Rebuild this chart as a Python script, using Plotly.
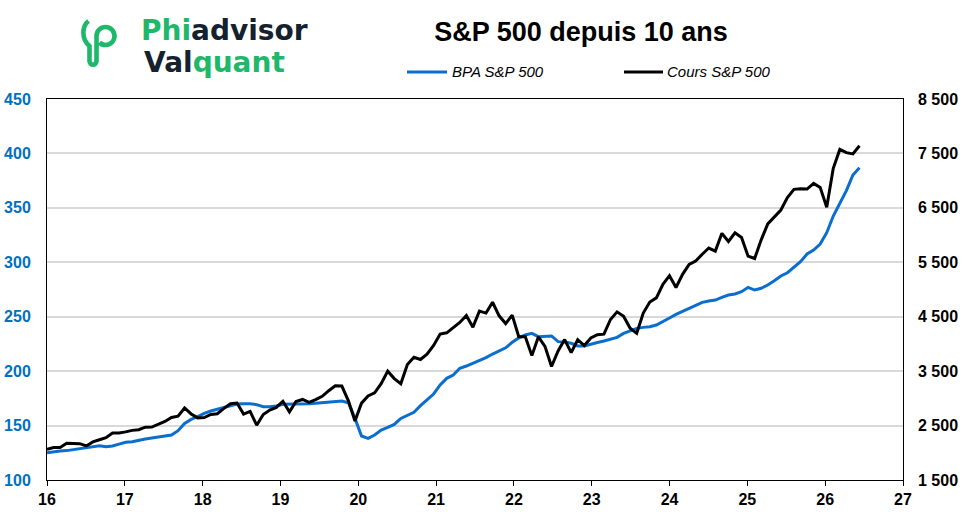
import plotly.graph_objects as go

# x positions: one point per month, first one on the "16" tick
x_start = 16.0
x_step = 0.0842

# BPA S&P 500 (left axis)
bpa = [125.1, 126.0, 126.6, 127.0, 127.9, 128.8, 129.7, 131.0, 131.5, 130.6, 131.2, 133.0,
       134.6, 135.2, 136.7, 137.7, 138.6, 139.8, 140.4, 141.3, 145.3, 152.0, 155.7, 158.2,
       161.2, 163.4, 164.9, 166.7, 168.3, 169.8, 170.1, 170.1, 169.2, 167.4, 167.4, 168.0,
       169.5, 169.5, 169.5, 169.8, 170.1, 170.4, 171.0, 172.0, 172.6, 172.6, 171.0, 156.6,
       140.4, 138.3, 141.3, 145.9, 148.4, 151.1, 156.6, 159.7, 162.2, 168.3, 174.1, 179.0,
       187.3, 193.4, 196.4, 202.6, 204.7, 207.2, 209.3, 212.4, 215.7, 218.8, 221.4, 226.5,
       230.5, 233.2, 234.7, 231.7, 231.7, 232.3, 227.1, 226.8, 225.6, 223.2, 223.2, 224.4,
       226.3, 227.7, 229.2, 231.0, 234.7, 237.2, 239.3, 240.2, 240.8, 242.4, 246.0, 248.8,
       252.2, 255.0, 258.0, 261.0, 263.2, 264.4, 265.3, 267.8, 269.9, 270.9, 273.0, 277.0,
       274.5, 276.1, 279.1, 283.1, 287.4, 290.4, 295.3, 300.5, 307.6, 311.2, 316.7, 327.2,
       342.5, 354.1, 365.8, 380.2, 386.9]

# Cours S&P 500 (right axis)
cours = [2065, 2097, 2099, 2174, 2171, 2168, 2126, 2199, 2239, 2279, 2364, 2363,
         2384, 2412, 2423, 2470, 2472, 2519, 2575, 2648, 2674, 2824, 2714, 2641,
         2648, 2705, 2718, 2816, 2902, 2914, 2712, 2760, 2507, 2704, 2784, 2834,
         2946, 2752, 2942, 2980, 2926, 2977, 3038, 3141, 3231, 3226, 2954, 2585,
         2912, 3044, 3100, 3271, 3500, 3363, 3270, 3622, 3756, 3714, 3811, 3973,
         4181, 4204, 4298, 4395, 4523, 4308, 4605, 4567, 4766, 4516, 4374, 4530,
         4132, 4132, 3785, 4130, 3955, 3586, 3872, 4080, 3840, 4077, 3970, 4109,
         4169, 4180, 4450, 4589, 4508, 4288, 4194, 4568, 4770, 4846, 5096, 5254,
         5036, 5278, 5460, 5522, 5648, 5762, 5705, 6032, 5882, 6041, 5955, 5612,
         5569, 5912, 6205, 6339, 6460, 6688, 6840, 6849, 6845, 6950, 6876, 6510,
         7226, 7574, 7514, 7490, 7642]

x = [x_start + i * x_step for i in range(len(bpa))]

BLUE = '#0a6ecf'
TICK_BLUE = '#0070c0'
GREEN = '#1db86a'
NAVY = '#14212f'
FONT = 'Liberation Sans, Arial'

W, H = 962, 512
ML, MR, MT, MB = 47, 59, 99, 32


# pixel -> paper helpers for the decorations (logo, legend)
def px(v):
    return (v - ML) / (W - ML - MR)


def py(v):
    return (H - MB - v) / (H - MT - MB)


fig = go.Figure()
fig.add_trace(go.Scatter(x=x, y=bpa, mode='lines', name='BPA S&P 500',
                         line=dict(color=BLUE, width=3)))
fig.add_trace(go.Scatter(x=x, y=cours, mode='lines', name='Cours S&P 500', yaxis='y2',
                         line=dict(color='black', width=3)))

# logo icon
icon = [
    ('M', [(88.5, 21)]),
    ('C', [(82, 26), (81, 39), (89.5, 46)]),
    ('L', [(89.5, 61)]),
    ('C', [(89.5, 66), (96.5, 66), (96.5, 61)]),
    ('L', [(96.5, 36)]),
    ('C', [(96.5, 31), (100.5, 27), (105.5, 27)]),
    ('C', [(110.5, 27), (114.5, 31), (114.5, 36)]),
    ('C', [(114.5, 41), (110.5, 45), (105.5, 45)]),
    ('C', [(103, 45), (101, 44), (99.5, 42.5)]),
]
path = ' '.join(cmd + ' '.join('%.5f,%.5f' % (px(a), py(b)) for a, b in pts) for cmd, pts in icon)

shapes = [
    dict(type='path', xref='paper', yref='paper', path=path,
         line=dict(color=GREEN, width=4.6)),
    dict(type='line', xref='paper', yref='paper', x0=px(407), x1=px(447), y0=py(72), y1=py(72),
         line=dict(color=BLUE, width=3)),
    dict(type='line', xref='paper', yref='paper', x0=px(624), x1=px(663), y0=py(72), y1=py(72),
         line=dict(color='black', width=3)),
]

annotations = [
    dict(text="<span style='color:%s'>Phi</span>advisor" % GREEN, x=px(139), y=py(31),
         font=dict(family='DejaVu Sans', size=28, weight='bold', color=NAVY)),
    dict(text="Val<span style='color:%s'>quant</span>" % GREEN, x=px(142), y=py(63),
         font=dict(family='DejaVu Sans', size=28, weight='bold', color=NAVY)),
    dict(text='BPA S&P 500', x=px(450), y=py(72),
         font=dict(family=FONT, size=15, style='italic', color='black')),
    dict(text='Cours S&P 500', x=px(665), y=py(72),
         font=dict(family=FONT, size=15, style='italic', color='black')),
]
for a in annotations:
    a.update(xref='paper', yref='paper', xanchor='left', yanchor='middle', showarrow=False)

fig.update_layout(
    width=W, height=H,
    margin=dict(l=ML, r=MR, t=MT, b=MB, autoexpand=False),
    paper_bgcolor='white', plot_bgcolor='white',
    showlegend=False,
    separators='. ',
    title=dict(text='S&P 500 depuis 10 ans', xref='container', yref='container',
               x=581 / W, y=1 - 32 / H, xanchor='center', yanchor='middle',
               font=dict(family=FONT, size=27, weight='bold', color='black')),
    xaxis=dict(range=[16, 27], dtick=1, tick0=16, showgrid=False, zeroline=False,
               automargin=False,
               showline=True, mirror=True, linecolor='black', linewidth=1,
               ticks='outside', ticklen=5, tickcolor='black', tickwidth=1,
               tickfont=dict(family=FONT, size=16, weight='bold', color='black')),
    yaxis=dict(range=[100, 450], dtick=50, showgrid=True, gridcolor='#d9d9d9', gridwidth=2,
               automargin=False,
               zeroline=False, showline=True, mirror=True, linecolor='black', linewidth=1,
               ticks='', ticklabelstandoff=12,
               tickfont=dict(family=FONT, size=16, weight='bold', color=TICK_BLUE)),
    yaxis2=dict(range=[1500, 8500], dtick=1000, tick0=1500, tickformat=',d',
                overlaying='y', side='right', automargin=False,
                showgrid=False, zeroline=False, showline=False, ticks='', ticklabelstandoff=14,
                tickfont=dict(family=FONT, size=16, weight='bold', color='black')),
    shapes=shapes,
    annotations=annotations,
)

# drop the default 8px page margin so the figure fills the window
fig.write_html('out.html', config={'displayModeBar': False},
               post_script="document.body.style.margin = '0';")
